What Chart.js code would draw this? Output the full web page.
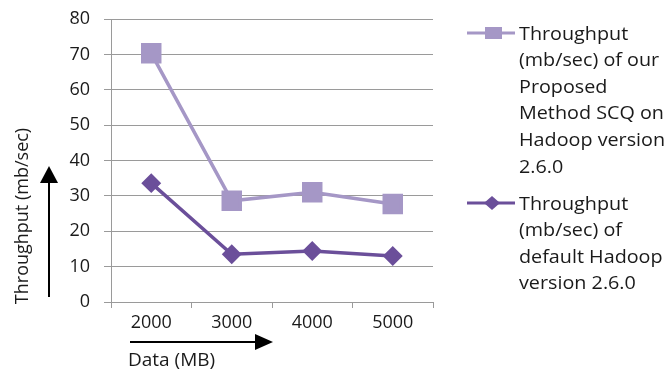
<!DOCTYPE html>
<html lang="en">
<head>
    <meta charset="UTF-8">
    <title>Throughput</title>
    <style>
        body { margin: 0; background: #fff; }
        .grafico { position: relative; width: 672px; height: 372px; overflow: hidden; }
        .marca { position: absolute; left: 465px; }
        .texto-legenda {
            position: absolute; left: 519px; white-space: nowrap;
            font-family: "Open Sans", sans-serif; font-size: 19px; line-height: 26.6px; color: #1a1a1a;
            transform: scaleX(1.04); transform-origin: left top;
        }
    </style>
</head>
<body>
<div class="grafico">
    <canvas id="graficoThroughput" width="672" height="372"></canvas>
    <canvas id="marcaUm" class="marca" width="52" height="20" style="top: 23px"></canvas>
    <div class="texto-legenda" style="top: 19.7px">Throughput<br>(mb/sec) of our<br>Proposed<br>Method SCQ on<br>Hadoop version<br>2.6.0</div>
    <canvas id="marcaDois" class="marca" width="52" height="20" style="top: 193px"></canvas>
    <div class="texto-legenda" style="top: 189.7px">Throughput<br>(mb/sec) of<br>default Hadoop<br>version 2.6.0</div>
</div>
<script src="https://cdn.jsdelivr.net/npm/chart.js"></script>
<script>
    const categorias = ['2000', '3000', '4000', '5000'];
    const throughputProposto = [70.3, 28.6, 31.0, 27.7];
    const throughputPadrao = [33.6, 13.5, 14.4, 13.0];
    const ticksY = [0, 10, 20, 30, 40, 50, 60, 70, 80];

    const corClara = '#a597c6';
    const corEscura = '#6b4f9a';

    // legenda desenhada a mao, linha + marcador
    function desenharMarca(id, cor, tipo) {
        const ctx = document.getElementById(id).getContext('2d');
        ctx.strokeStyle = cor;
        ctx.fillStyle = cor;
        ctx.lineWidth = 3;
        ctx.beginPath();
        ctx.moveTo(2, 10);
        ctx.lineTo(50, 10);
        ctx.stroke();
        ctx.beginPath();
        if (tipo === 'quadrado') {
            ctx.rect(20, 4, 17, 12);
        } else {
            ctx.moveTo(27, 3);
            ctx.lineTo(35, 10);
            ctx.lineTo(27, 17);
            ctx.lineTo(19, 10);
            ctx.closePath();
        }
        ctx.fill();
    }
    desenharMarca('marcaUm', corClara, 'quadrado');
    desenharMarca('marcaDois', corEscura, 'losango');

    const setasETitulos = {
        id: 'setasETitulos',
        afterDraw(chart) {
            const ctx = chart.ctx;
            ctx.save();
            ctx.fillStyle = '#000';
            ctx.strokeStyle = '#000';
            ctx.lineWidth = 2;

            // seta vertical
            ctx.beginPath();
            ctx.moveTo(49, 297);
            ctx.lineTo(49, 180);
            ctx.stroke();
            ctx.beginPath();
            ctx.moveTo(49, 166);
            ctx.lineTo(58, 183);
            ctx.lineTo(40, 183);
            ctx.closePath();
            ctx.fill();

            // seta horizontal
            ctx.beginPath();
            ctx.moveTo(130, 342);
            ctx.lineTo(258, 342);
            ctx.stroke();
            ctx.beginPath();
            ctx.moveTo(273, 342);
            ctx.lineTo(255, 334);
            ctx.lineTo(255, 350);
            ctx.closePath();
            ctx.fill();

            ctx.fillStyle = '#1a1a1a';
            ctx.font = '19px "Open Sans", sans-serif';
            ctx.textBaseline = 'middle';
            ctx.textAlign = 'left';
            ctx.fillText('Data (MB)', 128, 361);

            ctx.font = '18px "Open Sans", sans-serif';
            ctx.translate(23, 216);
            ctx.rotate(-Math.PI / 2);
            ctx.textAlign = 'center';
            ctx.fillText('Throughput (mb/sec)', 0, 0);
            ctx.restore();
        }
    };

    new Chart(document.getElementById('graficoThroughput'), {
        type: 'line',
        data: {
            labels: categorias,
            datasets: [{
                label: 'Throughput (mb/sec) of our Proposed Method SCQ on Hadoop version 2.6.0',
                data: throughputProposto,
                borderColor: corClara,
                backgroundColor: corClara,
                borderWidth: 3.5,
                pointStyle: 'rect',
                pointRadius: 12,
                pointHoverRadius: 12,
                tension: 0
            }, {
                label: 'Throughput (mb/sec) of default Hadoop version 2.6.0',
                data: throughputPadrao,
                borderColor: corEscura,
                backgroundColor: corEscura,
                borderWidth: 3.5,
                pointStyle: 'rectRot',
                pointRadius: 7.5,
                pointHoverRadius: 7.5,
                tension: 0
            }]
        },
        options: {
            responsive: false,
            animation: false,
            layout: { padding: { left: 51, top: 19, right: 239, bottom: 0 } },
            plugins: {
                legend: { display: false },
                tooltip: { enabled: false }
            },
            scales: {
                x: {
                    offset: true,
                    afterFit: function (escala) { escala.height = 70; },
                    grid: {
                        offset: true,
                        drawOnChartArea: false,
                        drawTicks: true,
                        tickLength: 6,
                        color: '#9a9a9a'
                    },
                    border: { color: '#9a9a9a', width: 1 },
                    ticks: {
                        color: '#1a1a1a',
                        padding: 4,
                        font: { family: '"Open Sans", sans-serif', size: 18 }
                    }
                },
                y: {
                    min: 0,
                    max: 80,
                    afterFit: function (escala) {
                        escala.width = 60;
                        escala.paddingTop = 0;
                        escala.paddingBottom = 0;
                    },
                    afterBuildTicks: function (escala) {
                        escala.ticks = ticksY.map(function (v) { return { value: v }; });
                    },
                    grid: { color: '#9a9a9a', tickLength: 7 },
                    border: { color: '#9a9a9a', width: 1 },
                    ticks: {
                        color: '#1a1a1a',
                        padding: 14,
                        font: { family: '"Open Sans", sans-serif', size: 18 }
                    }
                }
            }
        },
        plugins: [setasETitulos]
    });
</script>
</body>
</html>
